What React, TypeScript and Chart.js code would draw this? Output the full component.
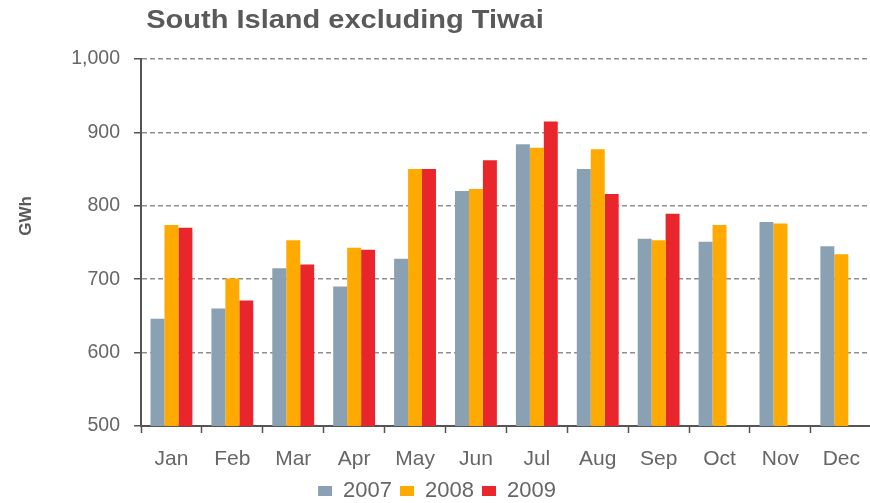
import React, { useEffect, useRef } from "react";
import { Chart, registerables } from "chart.js";

Chart.register(...registerables);

const categories = ["Jan", "Feb", "Mar", "Apr", "May", "Jun", "Jul", "Aug", "Sep", "Oct", "Nov", "Dec"];
const series2007 = [646, 660, 715, 690, 728, 820, 884, 850, 755, 751, 778, 745];
const series2008 = [774, 701, 753, 743, 850, 823, 879, 877, 753, 774, 776, 734];
const series2009 = [770, 671, 720, 740, 850, 862, 915, 816, 789, null, null, null];
const seriesNames = ["2007", "2008", "2009"];
const chartTitle = "South Island excluding Tiwai";
const yAxisTitle = "GWh";
const yMin = 500;
const yMax = 1000;
const yStep = 100;

const FONT = "'Liberation Sans', Arial, sans-serif";

const titlePlugin = {
  id: "customTitles",
  afterDraw(chart: any) {
    const ctx = chart.ctx;
    ctx.save();
    ctx.fillStyle = "#5a5a5a";
    ctx.font = "bold 25px " + FONT;
    ctx.textAlign = "center";
    ctx.textBaseline = "alphabetic";
    ctx.translate(345, 28);
    ctx.scale(1.16, 1);
    ctx.fillText(chartTitle, 0, 0);
    ctx.restore();
    ctx.save();
    ctx.fillStyle = "#5a5a5a";
    ctx.translate(26, 216);
    ctx.rotate(-Math.PI / 2);
    ctx.font = "bold 17px " + FONT;
    ctx.textAlign = "center";
    ctx.textBaseline = "middle";
    ctx.fillText(yAxisTitle, 0, 0);
    ctx.restore();
  },
};

export default function App() {
  const canvasRef = useRef<HTMLCanvasElement | null>(null);

  useEffect(() => {
    const canvas = canvasRef.current;
    if (!canvas) return;
    const chart = new Chart(canvas, {
      type: "bar",
      data: {
        labels: categories,
        datasets: [
          { label: seriesNames[0], data: series2007, backgroundColor: "#8aa0b3" },
          { label: seriesNames[1], data: series2008, backgroundColor: "#ffaa00" },
          { label: seriesNames[2], data: series2009, backgroundColor: "#e9262b" },
        ],
      },
      options: {
        responsive: false,
        animation: false,
        devicePixelRatio: 1,
        layout: { padding: { top: 59, left: 0, right: 0, bottom: 0 } },
        datasets: {
          bar: { categoryPercentage: 0.6875, barPercentage: 1.0, borderWidth: 0 },
        },
        plugins: {
          title: { display: false },
          tooltip: { enabled: false },
          legend: {
            display: true,
            position: "bottom",
            labels: {
              boxWidth: 14,
              boxHeight: 10,
              padding: 8,
              color: "#666",
              font: { family: FONT, size: 22 },
            },
          },
        },
        scales: {
          x: {
            offset: true,
            grid: {
              display: true,
              offset: true,
              drawOnChartArea: false,
              drawTicks: true,
              tickLength: 7,
              tickColor: "#555",
              tickWidth: 1.5,
            },
            border: { display: true, color: "#555", width: 2 },
            ticks: { color: "#666", font: { family: FONT, size: 21 }, padding: 14, maxRotation: 0 },
            afterFit: (scale: any) => {
              scale.height = 46;
            },
          },
          y: {
            min: yMin,
            max: yMax,
            grid: {
              color: (ctx: any) => (ctx.tick && ctx.tick.value === yMin ? "rgba(0,0,0,0)" : "#8f8f8f"),
              lineWidth: 1.5,
              drawTicks: true,
              tickLength: 7,
              tickColor: "#555",
              tickWidth: 1.5,
            },
            border: { display: true, color: "#555", width: 2, dash: [5, 3] },
            ticks: {
              stepSize: yStep,
              color: "#666",
              font: { family: FONT, size: 19.5 },
              padding: 14,
              callback: (v: any) => Number(v).toLocaleString("en-US"),
            },
            afterFit: (scale: any) => {
              scale.width = 141;
            },
          },
        },
      },
      plugins: [titlePlugin],
    });
    return () => chart.destroy();
  }, []);

  return (
    <div style={{ position: "absolute", left: 0, top: 0, width: 870, height: 503, overflow: "hidden", background: "#fff" }}>
      <canvas ref={canvasRef} width={874} height={512} style={{ display: "block" }} />
    </div>
  );
}
